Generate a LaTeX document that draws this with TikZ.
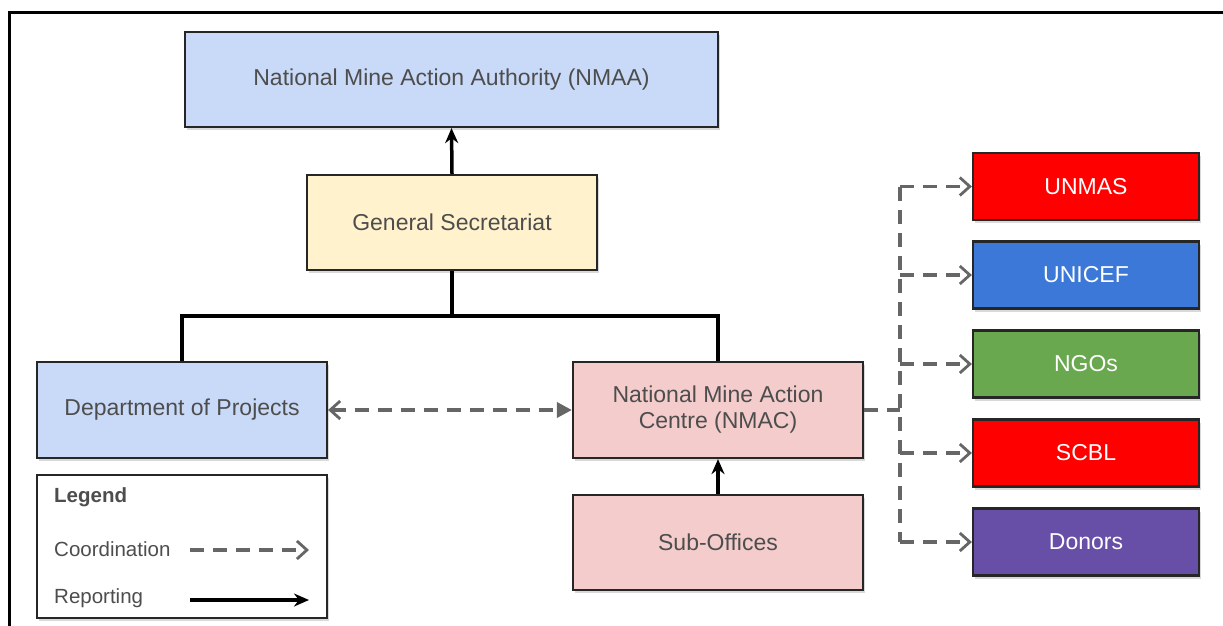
\documentclass[tikz,border=0pt]{standalone}
\usepackage{fontspec}
\setmainfont{Liberation Sans}
\usetikzlibrary{arrows.meta,shadows}
\definecolor{txtgray}{HTML}{4D4D4D}
\definecolor{lblue}{HTML}{C9DAF8}
\definecolor{lyellow}{HTML}{FFF2CC}
\definecolor{lpink}{HTML}{F4CCCC}
\definecolor{cred}{HTML}{FF0000}
\definecolor{cblue}{HTML}{3C78D8}
\definecolor{cgreen}{HTML}{6AA84F}
\definecolor{cpurple}{HTML}{674EA7}
\definecolor{dashgray}{HTML}{666666}
\tikzset{
  box/.style={draw=black!85, line width=2.2pt, inner sep=0pt, align=center,
    font=\fontsize{23}{27}\selectfont, text=txtgray,
    drop shadow={shadow xshift=2pt, shadow yshift=-3pt, opacity=0.3}},
  sidebox/.style={box, minimum width=226pt, minimum height=67pt, text=white},
  report/.style={draw=black, line width=3.5pt, -{Stealth[length=15pt,width=13pt]}},
  treeline/.style={draw=black, line width=3.5pt},
  coordline/.style={draw=dashgray, line width=3.5pt, dash pattern=on 14pt off 9pt},
  barb/.style={-{Straight Barb[length=10pt,width=18pt,line width=2.8pt]}},
}
\begin{document}
\begin{tikzpicture}[x=1pt,y=-1pt]
\useasboundingbox (0,0) rectangle (1223,626);
\draw[line width=3pt] (9,626) -- (9,13) -- (1223,13);

\node[box, fill=lblue, minimum width=533pt, minimum height=95pt] (nmaa) at (451.5,79.5) {National Mine Action Authority (NMAA)};
\node[box, fill=lyellow, minimum width=290pt, minimum height=95pt] (gs) at (452,222.5) {General Secretariat};
\node[box, fill=lblue, minimum width=290pt, minimum height=96pt] (dept) at (182,410) {Department of Projects};
\node[box, fill=lpink, minimum width=290pt, minimum height=96pt] (nmac) at (718,410) {National Mine Action\\[-1pt]Centre (NMAC)};
\node[box, fill=lpink, minimum width=290pt, minimum height=95pt] (sub) at (718,542.5) {Sub-Offices};

\node[sidebox, fill=cred] (unmas) at (1086,186.5) {UNMAS};
\node[sidebox, fill=cblue] (unicef) at (1086,275) {UNICEF};
\node[sidebox, fill=cgreen] (ngos) at (1086,364) {NGOs};
\node[sidebox, fill=cred] (scbl) at (1086,453) {SCBL};
\node[sidebox, fill=cpurple] (donors) at (1086,542) {Donors};

% reporting lines
\draw[report] (gs.north) -- (nmaa.south);
\draw[report] (sub.north) -- (nmac.south);
\coordinate (j) at (452,316);
\draw[treeline] (gs.south) -- (j);
\draw[treeline] (dept.north) |- (j) -| (nmac.north);

% coordination lines
\draw[coordline, {Straight Barb[length=10pt,width=18pt,line width=2.8pt]}-{Triangle[length=15pt,width=15pt]}] (dept.east) -- (nmac.west);
\coordinate (hub) at (900,410);
\draw[coordline] (nmac.east) -- (hub);
\draw[coordline] (hub |- unmas.west) -- (hub |- donors.west);
\foreach \n in {unmas,unicef,ngos,scbl,donors}
  \draw[coordline, barb] (hub |- \n.west) -- (\n.west);

% legend
\node[draw=black!85, line width=1.8pt, minimum width=290pt, minimum height=143pt, fill=white,
  drop shadow={shadow xshift=2pt, shadow yshift=-3pt, opacity=0.3}] (leg) at (182,546.5) {};
\node[anchor=west, font=\bfseries\fontsize{20.5}{24}\selectfont, text=txtgray, inner sep=0pt] (legt) at (54,497) {Legend};
\node[anchor=west, font=\fontsize{20.5}{24}\selectfont, text=txtgray, inner sep=0pt] (lc) at (54,549) {Coordination};
\node[anchor=west, font=\fontsize{20.5}{24}\selectfont, text=txtgray, inner sep=0pt] (lr) at (54,598) {Reporting};
\coordinate (c1) at (190,550);
\coordinate (c2) at (309,550);
\coordinate (r1) at (190,600);
\coordinate (r2) at (309,600);
\draw[coordline, barb] (c1) -- (c2);
\draw[report] (r1) -- (r2);
\end{tikzpicture}
\end{document}
